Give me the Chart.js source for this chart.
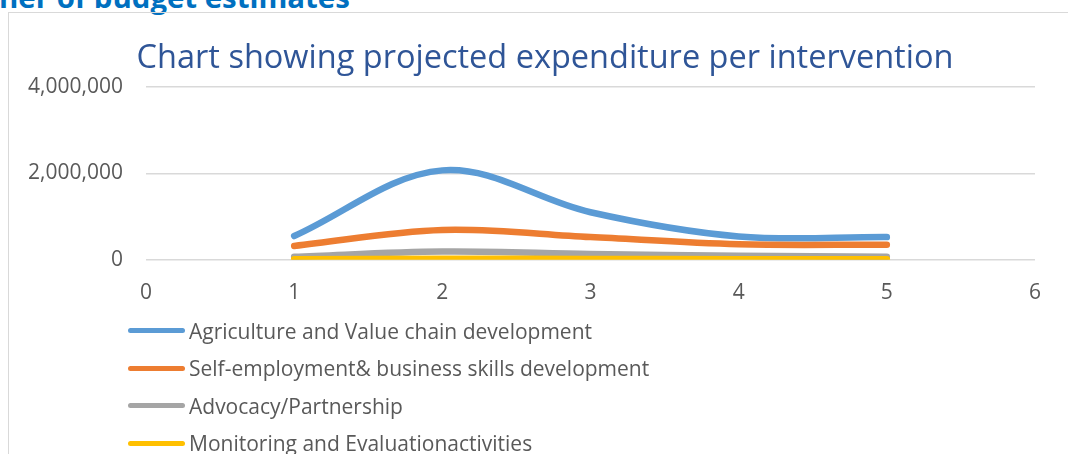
<!DOCTYPE html>
<html>
<head>
<meta charset="utf-8">
<script src="https://cdn.jsdelivr.net/npm/chart.js@4.4.1/dist/chart.umd.min.js"></script>
<style>
    html, body { margin: 0; padding: 0; background: #fff; }
    body { width: 1068px; height: 454px; overflow: hidden; position: relative; font-family: 'Open Sans', sans-serif; }
    #heading { position: absolute; left: -1px; top: -23.5px; font: bold 29.4px 'Open Sans', sans-serif; color: #0070c0; white-space: nowrap; }
    #frame { position: absolute; left: 8px; top: 12px; width: 1100px; height: 500px; border-left: 1px solid #d9d9d9; border-top: 1px solid #d9d9d9; }
    #wrap { position: absolute; left: 0; top: 0; width: 1068px; height: 338px; }
    #legend { position: absolute; left: 128px; top: 312px; }
    .lg-item { display: flex; align-items: center; height: 37.5px; }
    .lg-line { width: 57px; height: 5px; border-radius: 3px; margin-right: 4px; }
    .lg-text { font: 21px 'Open Sans', sans-serif; color: #595959; white-space: nowrap; }
</style>
</head>
<body>
<div id="heading">ner of budget estimates</div>
<div id="frame"></div>
<div id="wrap"><canvas id="expChart"></canvas></div>
<div id="legend"></div>
<script>
(function () {
    'use strict';

    // ====== Data ======
    const years = [1, 2, 3, 4, 5];
    const seriesNames = [
        'Agriculture and Value chain development',
        'Self-employment& business skills development',
        'Advocacy/Partnership',
        'Monitoring and Evaluationactivities'
    ];
    const agriculture = [550000, 2070000, 1100000, 540000, 525000];
    const selfEmployment = [320000, 690000, 525000, 360000, 350000];
    const advocacy = [70000, 190000, 135000, 95000, 70000];
    const monitoring = [15000, 25000, 20000, 15000, 15000];
    const colors = ['#5b9bd5', '#ed7d31', '#a5a5a5', '#ffc000'];
    const yTicks = [0, 2000000, 4000000];
    const xTicks = [0, 1, 2, 3, 4, 5, 6];

    const allSeries = [agriculture, selfEmployment, advocacy, monitoring];
    const toPoints = (vals) => years.map((x, i) => ({ x: x, y: vals[i] }));

    const tickFont = { family: "'Open Sans', sans-serif", size: 21 };

    // title in the original sits a bit right of the canvas centre
    const titleShift = {
        id: 'titleShift',
        afterLayout(chart) {
            if (chart.titleBlock) chart.titleBlock.left = 55;
        }
    };

    const el = document.getElementById('expChart');
    const chart = new Chart(el, {
        type: 'line',
        data: {
            datasets: allSeries.map((vals, i) => ({
                label: seriesNames[i],
                data: toPoints(vals),
                borderColor: colors[i],
                backgroundColor: colors[i],
                borderWidth: 6.5,
                borderCapStyle: 'round',
                pointRadius: 0,
                tension: 0.35,
                fill: false
            })).reverse()
        },
        options: {
            responsive: true,
            maintainAspectRatio: false,
            animation: false,
            layout: { padding: { left: 0, right: 33, top: 0, bottom: 11 } },
            scales: {
                x: {
                    type: 'linear',
                    min: xTicks[0],
                    max: xTicks[xTicks.length - 1],
                    afterBuildTicks: (s) => { s.ticks = xTicks.map(v => ({ value: v })); },
                    grid: { display: false, drawTicks: false },
                    border: { display: false },
                    ticks: { color: '#595959', font: tickFont, padding: 21 }
                },
                y: {
                    min: yTicks[0],
                    max: yTicks[yTicks.length - 1],
                    afterBuildTicks: (s) => { s.ticks = yTicks.map(v => ({ value: v })); },
                    afterFit: (s) => { s.width = 146; },
                    grid: { color: '#d9d9d9', lineWidth: 1.5, drawTicks: false },
                    border: { display: false },
                    ticks: {
                        color: '#595959',
                        font: tickFont,
                        padding: 23,
                        callback: (v) => new Intl.NumberFormat('en-US').format(v)
                    }
                }
            },
            plugins: {
                legend: { display: false },
                tooltip: { enabled: false },
                title: {
                    display: true,
                    text: 'Chart showing projected expenditure per intervention',
                    color: '#2f5597',
                    font: { family: "'Open Sans', sans-serif", size: 32.5, weight: 'normal' },
                    padding: { top: 39, bottom: 9 }
                }
            }
        },
        plugins: [titleShift]
    });

    // ====== Legend (HTML, from datasets) ======
    const legendEl = document.getElementById('legend');
    chart.data.datasets.slice().reverse().forEach(ds => {
        const row = document.createElement('div');
        row.className = 'lg-item';
        const line = document.createElement('span');
        line.className = 'lg-line';
        line.style.background = ds.borderColor;
        const txt = document.createElement('span');
        txt.className = 'lg-text';
        txt.textContent = ds.label;
        row.appendChild(line);
        row.appendChild(txt);
        legendEl.appendChild(row);
    });
})();
</script>
</body>
</html>
